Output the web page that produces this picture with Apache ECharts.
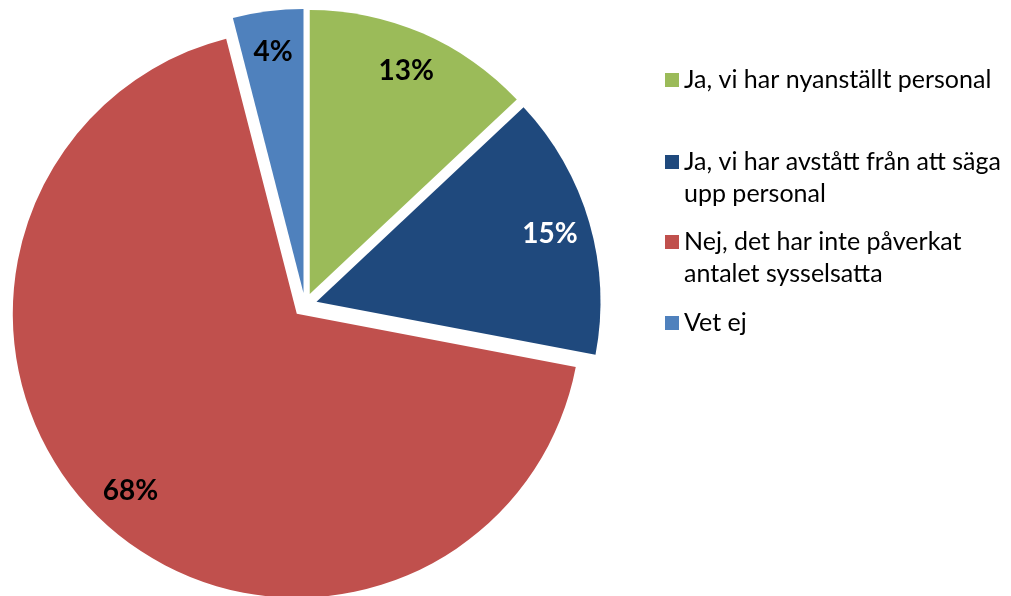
<!DOCTYPE html>
<html>
<head>
<meta charset="utf-8">
<script src="https://cdn.jsdelivr.net/npm/echarts@6/dist/echarts.min.js"></script>
<style>
html,body{margin:0;padding:0;background:#fff;}
#chart{width:1011px;height:596px;}
</style>
</head>
<body>
<div id="chart"></div>
<script>
const categories = ['Ja, vi har nyanställt personal', 'Ja, vi har avstått från att säga upp personal', 'Nej, det har inte påverkat antalet sysselsatta', 'Vet ej'];
const values = [13, 15, 68, 4];
const legendLabels = ['Ja, vi har nyanställt personal', 'Ja, vi har avstått från att säga\nupp personal', 'Nej, det har inte påverkat\nantalet sysselsatta', 'Vet ej'];
const colors = ['#9BBB59', '#1F497D', '#C0504D', '#4F81BD'];
const labelColors = ['#000000', '#ffffff', '#000000', '#000000'];

const chart = echarts.init(document.getElementById('chart'), null, {renderer: 'canvas'});

const pieData = categories.map((n, i) => ({
  name: n, value: values[i], selected: true,
  itemStyle: {color: colors[i]}
}));
const labelData = categories.map((n, i) => ({
  name: n, value: values[i], selected: true,
  itemStyle: {color: 'rgba(0,0,0,0)'},
  label: {color: labelColors[i]}
}));

const legendTops = [64, 114, 194, 307];
const legends = categories.map((n, i) => ({
  data: [n],
  left: 665,
  top: legendTops[i],
  orient: 'vertical',
  padding: 0,
  icon: 'rect',
  itemWidth: 14,
  itemHeight: 14,
  itemGap: 0,
  selectedMode: false,
  // two-line entries get an empty leading line so the marker sits beside the first line
  formatter: () => (legendLabels[i].indexOf('\n') >= 0 ? '\n' : '') + legendLabels[i],
  textStyle: {
    fontFamily: 'Lato', fontSize: 25, color: '#000', lineHeight: 32
  }
}));

chart.setOption({
  animation: false,
  color: colors,
  legend: legends,
  series: [
    {
      type: 'pie',
      center: [305, 305],
      radius: [0, 284],
      startAngle: 90,
      clockwise: true,
      selectedMode: 'multiple',
      selectedOffset: 12,
      label: {show: false},
      labelLine: {show: false},
      emphasis: {disabled: true},
      itemStyle: {borderWidth: 0},
      data: pieData
    },
    {
      type: 'pie',
      center: [305, 305],
      radius: [196, 284],
      startAngle: 90,
      clockwise: true,
      silent: true,
      selectedMode: 'multiple',
      selectedOffset: 12,
      legendHoverLink: false,
      label: {
        show: true, position: 'inside', formatter: '{c}%',
        fontFamily: 'Lato', fontWeight: 'bold', fontSize: 28
      },
      labelLine: {show: false},
      emphasis: {disabled: true},
      itemStyle: {borderWidth: 0},
      data: labelData
    }
  ]
});
</script>
</body>
</html>
